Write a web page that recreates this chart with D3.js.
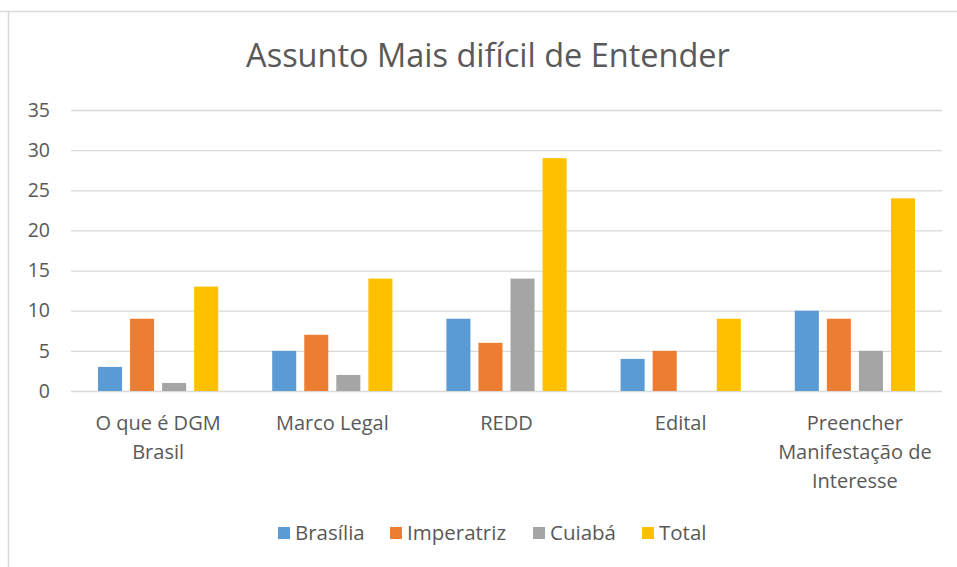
<!DOCTYPE html>
<html>
<head>
<meta charset="utf-8">
<script src="https://cdn.jsdelivr.net/npm/d3@7"></script>
<style>
  body { margin: 0; background: #fff; }
  svg { display: block; font-family: 'Open Sans', 'Noto Sans', sans-serif; }
</style>
</head>
<body>
<svg id="chart"></svg>
<script>
const categories = ['O que é DGM Brasil', 'Marco Legal', 'REDD', 'Edital', 'Preencher Manifestação de Interesse'];
const categoryLines = [
  ['O que é DGM', 'Brasil'],
  ['Marco Legal'],
  ['REDD'],
  ['Edital'],
  ['Preencher', 'Manifestação de', 'Interesse']
];
const seriesNames = ['Brasília', 'Imperatriz', 'Cuiabá', 'Total'];
const brasilia = [3, 5, 9, 4, 10];
const imperatriz = [9, 7, 6, 5, 9];
const cuiaba = [1, 2, 14, 0, 5];
const total = [13, 14, 29, 9, 24];
const yTicks = [0, 5, 10, 15, 20, 25, 30, 35];
const colors = ['#5b9bd5', '#ed7d31', '#a5a5a5', '#ffc000'];

const seriesValues = [brasilia, imperatriz, cuiaba, total];
const data = categories.map((c, i) => ({
  category: c,
  values: seriesNames.map((s, j) => ({ series: s, value: seriesValues[j][i] }))
}));

const width = 957, height = 567;
const margin = { top: 110, right: 15, bottom: 176, left: 71 };
const textColor = '#595959';

const svg = d3.select('#chart')
  .attr('width', width)
  .attr('height', height);

// frame edges visible in the crop
svg.append('line')
  .attr('x1', 0).attr('x2', width).attr('y1', 11.5).attr('y2', 11.5)
  .attr('stroke', '#d9d9d9').attr('stroke-width', 1.5);
svg.append('line')
  .attr('x1', 8.5).attr('x2', 8.5).attr('y1', 11).attr('y2', height)
  .attr('stroke', '#d9d9d9').attr('stroke-width', 1.5);

// title
svg.append('text')
  .attr('x', 488)
  .attr('y', 67)
  .attr('text-anchor', 'middle')
  .style('font-size', '32.5px')
  .style('fill', textColor)
  .text('Assunto Mais difícil de Entender');

const plotW = width - margin.left - margin.right;
const plotH = height - margin.top - margin.bottom;

const chart = svg.append('g')
  .attr('transform', `translate(${margin.left},${margin.top})`);

const y = d3.scaleLinear().domain([0, 35]).range([plotH, 0]);

const x0 = d3.scaleBand()
  .domain(categories)
  .range([0, plotW])
  .paddingInner(0.31)
  .paddingOuter(0.155);

const x1 = d3.scaleBand()
  .domain(seriesNames)
  .range([0, x0.bandwidth()])
  .paddingInner(0.25);

// y axis with gridlines
const yAxis = chart.append('g')
  .call(d3.axisLeft(y).tickValues(yTicks).tickSize(-plotW).tickPadding(21));
yAxis.select('.domain').remove();
yAxis.selectAll('.tick line').attr('stroke', '#d9d9d9').attr('stroke-width', 1.3);
yAxis.selectAll('.tick text')
  .style('font-size', '19.5px')
  .style('font-family', "'Open Sans', 'Noto Sans', sans-serif")
  .attr('fill', textColor);

// bars
const groups = chart.selectAll('.group')
  .data(data)
  .enter()
  .append('g')
  .attr('class', 'group')
  .attr('transform', d => `translate(${x0(d.category)},0)`);

groups.selectAll('rect')
  .data(d => d.values)
  .enter()
  .append('rect')
  .attr('x', d => x1(d.series))
  .attr('y', d => y(d.value))
  .attr('width', x1.bandwidth())
  .attr('height', d => plotH - y(d.value))
  .attr('fill', (d, i) => colors[i]);

// category labels
const catLabels = chart.append('g');
categories.forEach((c, i) => {
  const t = catLabels.append('text')
    .attr('x', x0(c) + x0.bandwidth() / 2)
    .attr('y', plotH + 39)
    .attr('text-anchor', 'middle')
    .style('font-size', '20px')
    .style('fill', textColor);
  categoryLines[i].forEach((line, k) => {
    t.append('tspan')
      .attr('x', x0(c) + x0.bandwidth() / 2)
      .attr('dy', k === 0 ? 0 : 29)
      .text(line);
  });
});

// legend
const legendX = [278, 390, 533, 642];
const legend = svg.append('g');
seriesNames.forEach((s, i) => {
  const g = legend.append('g').attr('transform', `translate(${legendX[i]},527)`);
  g.append('rect')
    .attr('width', 12).attr('height', 12)
    .attr('fill', colors[i]);
  g.append('text')
    .attr('x', 17)
    .attr('y', 13)
    .style('font-size', '20.5px')
    .style('fill', textColor)
    .text(s);
});
</script>
</body>
</html>
